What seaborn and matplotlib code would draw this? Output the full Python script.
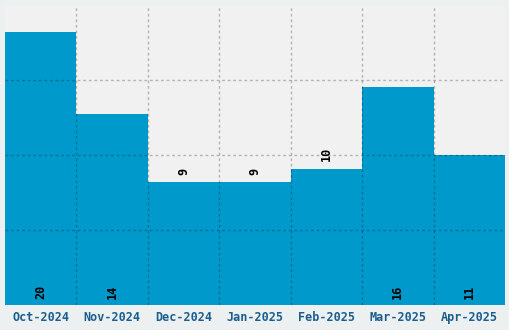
import matplotlib
matplotlib.use("Agg")
import matplotlib.pyplot as plt
import seaborn as sns
import pandas as pd
from matplotlib.ticker import FixedLocator

months = ["Oct-2024", "Nov-2024", "Dec-2024", "Jan-2025", "Feb-2025", "Mar-2025", "Apr-2025"]
counts = [20, 14, 9, 9, 10, 16, 11]

df = pd.DataFrame({"month": months, "count": counts})

sns.set_style("white")
plt.rcParams["font.family"] = ["DejaVu Sans Mono"]

W, H = 510, 330
fig = plt.figure(figsize=(W / 100, H / 100), dpi=100, facecolor="#ecf0f1")
ax = fig.add_axes([5 / W, 25 / H, 500 / W, 300 / H])
ax.set_facecolor("#f1f1f1")

sns.barplot(data=df, x="month", y="count", color="#0099cc", saturation=1,
            width=1.0, ax=ax, edgecolor="none", linewidth=0)

ax.set_xlim(-0.5, len(months) - 0.5)
ax.set_ylim(0, 22)
ax.yaxis.set_major_locator(FixedLocator([5.5, 11, 16.5]))
ax.xaxis.set_minor_locator(FixedLocator([i + 0.5 for i in range(len(months) - 1)]))
ax.set_axisbelow(False)
ax.grid(False)
ax.grid(axis="y", which="major", color="black", alpha=0.25, linestyle=(0, (2, 2)), linewidth=1)
ax.grid(axis="x", which="minor", color="black", alpha=0.25, linestyle=(0, (2, 2)), linewidth=1)

for s in ax.spines.values():
    s.set_visible(False)
ax.set_xlabel("")
ax.set_ylabel("")
ax.set_yticklabels([])
ax.tick_params(axis="y", length=0)
ax.tick_params(axis="x", which="both", length=0, pad=4, labelsize=8.5, labelcolor="#1a5e8e")
for lab in ax.get_xticklabels():
    lab.set_fontweight("bold")

for i, v in enumerate(counts):
    if v >= 11:
        ax.annotate(str(v), (i, 0), xytext=(0, 4), textcoords="offset points",
                    rotation=90, ha="center", va="bottom", fontsize=8.5,
                    fontweight="bold", color="black")
    else:
        ax.annotate(str(v), (i, v), xytext=(0, 5.5), textcoords="offset points",
                    rotation=90, ha="center", va="bottom", fontsize=8.5,
                    fontweight="bold", color="black")

fig.savefig("out.png", dpi=100, facecolor=fig.get_facecolor())
